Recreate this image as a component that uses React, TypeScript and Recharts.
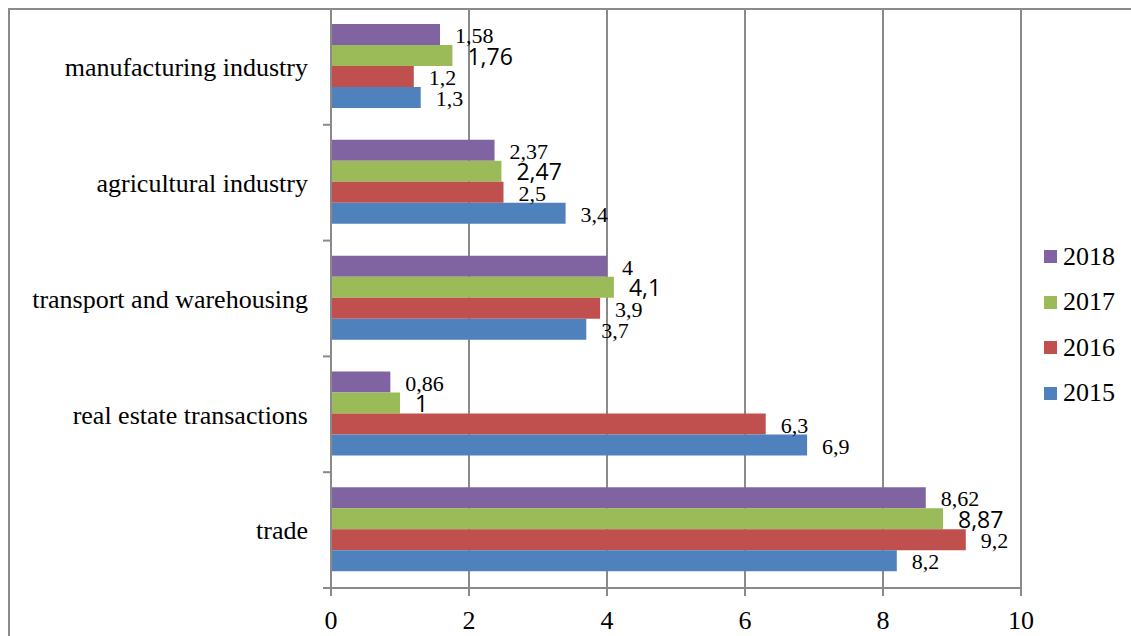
import { BarChart, Bar, XAxis, YAxis, CartesianGrid, LabelList } from "recharts";

const CATEGORIES = [
  "manufacturing industry",
  "agricultural industry",
  "transport and warehousing",
  "real estate transactions",
  "trade",
];
const VALUES_2018 = [1.58, 2.37, 4, 0.86, 8.62];
const VALUES_2017 = [1.76, 2.47, 4.1, 1, 8.87];
const VALUES_2016 = [1.2, 2.5, 3.9, 6.3, 9.2];
const VALUES_2015 = [1.3, 3.4, 3.7, 6.9, 8.2];
const X_TICKS = [0, 2, 4, 6, 8, 10];

// top-to-bottom order inside each group, same as the legend
const SERIES = [
  { key: "y2018", name: "2018", color: "#8064A2", values: VALUES_2018 },
  { key: "y2017", name: "2017", color: "#9BBB59", values: VALUES_2017 },
  { key: "y2016", name: "2016", color: "#C0504D", values: VALUES_2016 },
  { key: "y2015", name: "2015", color: "#4F81BD", values: VALUES_2015 },
];

const W = 1131;
const H = 636;
const MARGIN = { top: 9, right: 110, bottom: 8, left: 0 };
const X_AXIS_H = 40;
const PLOT_H = H - MARGIN.top - MARGIN.bottom - X_AXIS_H;
const BAND = PLOT_H / CATEGORIES.length;

const SERIF = "'Liberation Serif', 'Times New Roman', serif";
const SANS = "'Open Sans', 'Noto Sans', sans-serif";
const GRID = "#8a8a8a";

const data = CATEGORIES.map((name, i) => {
  const row: Record<string, string | number> = { name };
  for (const s of SERIES) row[s.key] = s.values[i];
  return row;
});

const fmt = (v: number | string) => String(v).replace(".", ",");

// category label plus the small tick marks between groups
function CategoryTick(props: any) {
  const { x, y, payload, index } = props;
  const axisX = x + 23;
  const isLast = index === CATEGORIES.length - 1;
  return (
    <g>
      <text x={x} y={y} dy="0.36em" textAnchor="end" style={{ fontFamily: SERIF }} fontSize={26} fill="#000">
        {payload.value}
      </text>
      <line x1={axisX - 8} x2={axisX} y1={y - BAND / 2} y2={y - BAND / 2} stroke={GRID} strokeWidth={2} />
      {isLast && (
        <line x1={axisX - 8} x2={axisX} y1={y + BAND / 2} y2={y + BAND / 2} stroke={GRID} strokeWidth={2} />
      )}
    </g>
  );
}

function makeLabel(sans: boolean) {
  return (props: any) => {
    const { x, y, width, height, value } = props;
    return (
      <text
        x={x + width + 15}
        y={y + height / 2 + 1}
        dy="0.35em"
        style={{ fontFamily: sans ? SANS : SERIF }}
        fontSize={sans ? 23 : 22}
        fontWeight={sans ? 500 : 400}
        fill="#000"
      >
        {fmt(value)}
      </text>
    );
  };
}

export default function App() {
  return (
    <div style={{ position: "absolute", left: 0, top: 0, width: W, height: H, background: "#fff" }}>
      <div
        style={{
          position: "absolute",
          left: 8,
          top: 8,
          width: W,
          height: H,
          borderLeft: `2px solid ${GRID}`,
          borderTop: `2px solid ${GRID}`,
        }}
      />
      <div style={{ position: "absolute", left: 0, top: 0 }}>
        <BarChart
          width={W}
          height={H}
          data={data}
          layout="vertical"
          margin={MARGIN}
          barCategoryGap="13%"
          barGap={0}
        >
          <CartesianGrid horizontal={false} stroke={GRID} strokeWidth={2} />
          <XAxis
            type="number"
            domain={[0, 10]}
            ticks={X_TICKS}
            height={X_AXIS_H}
            axisLine={{ stroke: GRID, strokeWidth: 2 }}
            tickLine={{ stroke: GRID, strokeWidth: 2 }}
            tickSize={8}
            tickMargin={15}
            tick={{ style: { fontFamily: SERIF }, fontSize: 26, fill: "#000" }}
            interval={0}
          />
          <YAxis
            type="category"
            dataKey="name"
            width={331}
            axisLine={{ stroke: GRID, strokeWidth: 2 }}
            tickLine={false}
            tickSize={0}
            tickMargin={23}
            tick={<CategoryTick />}
            interval={0}
          />
          {SERIES.map((s) => (
            <Bar key={s.key} dataKey={s.key} name={s.name} fill={s.color} isAnimationActive={false}>
              <LabelList dataKey={s.key} content={makeLabel(s.key === "y2017")} />
            </Bar>
          ))}
        </BarChart>
      </div>
      <div style={{ position: "absolute", left: 1044, top: 234 }}>
        {SERIES.map((s) => (
          <div key={s.key} style={{ display: "flex", alignItems: "center", height: 45.5 }}>
            <span style={{ width: 13, height: 13, background: s.color, marginRight: 6 }} />
            <span style={{ fontFamily: SERIF, fontSize: 26, color: "#000", lineHeight: "26px" }}>{s.name}</span>
          </div>
        ))}
      </div>
    </div>
  );
}
